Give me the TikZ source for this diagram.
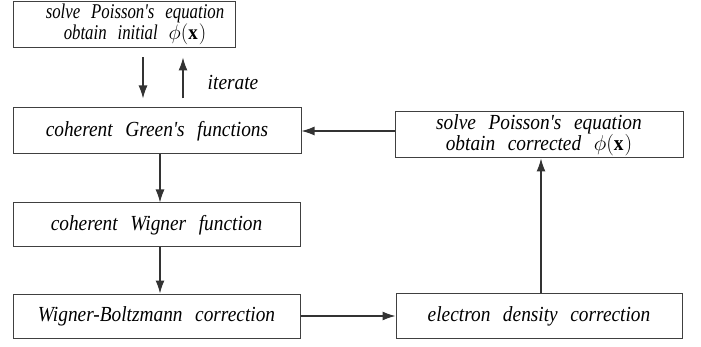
\documentclass[tikz,border=0pt]{standalone}
\usepackage{fix-cm}
\usepackage{fontspec}
\setmainfont{Liberation Serif}[Ligatures=TeXOff,WordSpace=2.6,FakeStretch=0.9]
\newfontfamily\narrowserif{Liberation Serif}[Ligatures=TeXOff,WordSpace=2.6,FakeStretch=0.8]
\usetikzlibrary{arrows.meta,calc}
\begin{document}
\begin{tikzpicture}[x=1pt,y=1pt,
  txt/.style={font=\fontsize{21.5}{21}\selectfont\itshape},
  stepbox/.style={txt,draw=black!75,line width=1pt,inner sep=0pt,align=center},
  arr/.style={draw=black!80,line width=1.2pt,-{Latex[length=13pt,width=9pt]}}]
\useasboundingbox (0,0) rectangle (701,-347);
\node[stepbox,minimum width=222,minimum height=46,
  font=\narrowserif\fontsize{21}{21}\selectfont\itshape] (B1) at (124,-25)
  {\hspace*{22pt}\begin{tabular}{@{}c@{}}solve Poisson's equation\\[-1pt]obtain initial $\phi(\mathbf{x})$\end{tabular}};
\node[stepbox,minimum width=288,minimum height=46] (B2) at (157,-131)
  {coherent Green's functions};
\node[stepbox,minimum width=288,minimum height=46] (B3) at (539,-135)
  {solve Poisson's equation\\obtain corrected $\phi(\mathbf{x})$};
\node[stepbox,minimum width=287,minimum height=44] (B4) at (156.5,-225)
  {coherent Wigner function};
\node[stepbox,minimum width=287,minimum height=44] (B5) at (156.5,-316)
  {Wigner-Boltzmann correction};
\node[stepbox,minimum width=286,minimum height=45] (B6) at (539,-316)
  {electron density correction};
\node[txt] (it) at (233,-82) {iterate};
\coordinate (d1) at ($(B1.south)+(19,-9)$);
\coordinate (d2) at ($(B2.north)+(-14,9)$);
\coordinate (u1) at ($(B2.north)+(26,9)$);
\coordinate (u2) at ($(B1.south)+(59,-9)$);
\draw[arr] (d1) -- (d1 |- d2);
\draw[arr] (u2 |- u1) -- (u2);
\draw[arr] (B3.west |- B2.east) -- (B2.east);
\draw[arr] ($(B2.south)+(3,0)$) -- ($(B4.north)+(3.5,0)$);
\draw[arr] ($(B4.south)+(3.5,0)$) -- ($(B5.north)+(3.5,0)$);
\draw[arr] (B5.east) -- (B5.east -| B6.west);
\draw[arr] ($(B6.north)+(2,0)$) -- ($(B3.south)+(2,0)$);
\end{tikzpicture}
\end{document}
